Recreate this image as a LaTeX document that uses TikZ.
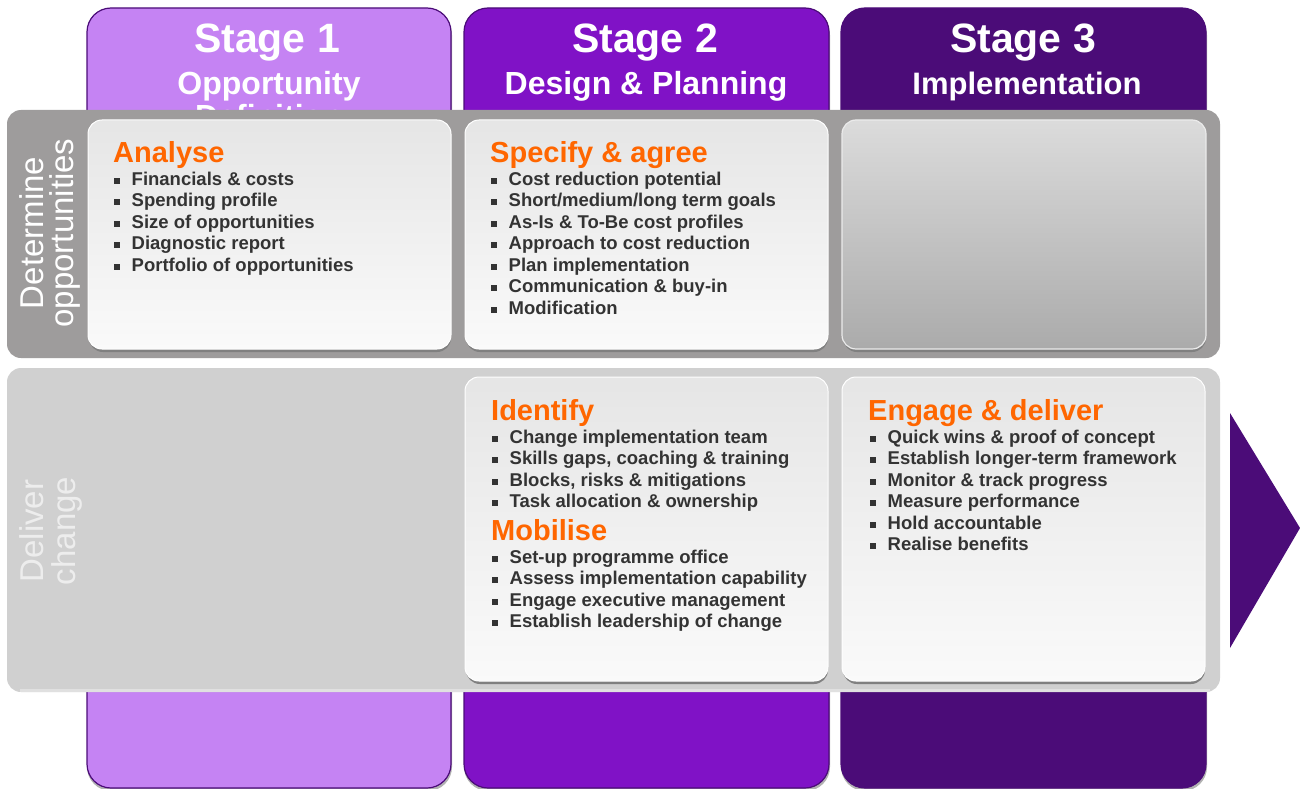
\documentclass[tikz,border=0pt]{standalone}
\usepackage{fontspec}
\setmainfont{Liberation Sans}
\definecolor{sOne}{HTML}{C583F3}
\definecolor{sTwo}{HTML}{8012C6}
\definecolor{sThree}{HTML}{4B0C78}
\definecolor{bandA}{HTML}{9E9C9C}
\definecolor{bandB}{HTML}{D0D0D0}
\definecolor{orng}{HTML}{FF6600}
\definecolor{txt}{HTML}{333333}
\newcommand\sqb{\raisebox{1.5pt}{\rule{6pt}{6pt}}\hspace{11.5pt}}
\newcommand\itemlist[4]{\foreach \t [count=\i] in {#4}{\node[item] (#1\i) at (#2,{#3+(\i-1)*21.55}) {\sqb\t};}}
\tikzset{
  stagecol/.style={draw=sThree, line width=1.2pt, rounded corners=24},
  colshadow/.style={fill=black!30, rounded corners=24},
  stagetitle/.style={text=white, font=\bfseries\fontsize{41}{44}\selectfont, anchor=base, inner sep=0},
  stagesub/.style={text=white, font=\bfseries\fontsize{#1}{33}\selectfont, anchor=base, inner sep=0},
  stagesub/.default=29,
  heading/.style={text=orng, font=\bfseries\fontsize{29}{33}\selectfont, anchor=base west, inner sep=0},
  item/.style={text=txt, font=\bfseries\fontsize{18.5}{21.6}\selectfont, anchor=base west, inner sep=0},
  panel/.style={rounded corners=14, top color=black!10, bottom color=black!2, draw=white, line width=1pt},
  darkpanel/.style={rounded corners=14, top color=black!14, bottom color=black!33, draw=white!92!black, line width=1.2pt},
  panelshadow/.style={rounded corners=14, fill=black!50},
  sidelabel/.style={rotate=90, anchor=base, inner sep=0, font=\fontsize{33}{36}\selectfont},
}
\begin{document}
\begin{tikzpicture}[x=1pt,y=-1pt]
\useasboundingbox (0,0) rectangle (1300,789);
% stage columns
\fill[colshadow] (87,11) rectangle (452,791);
\fill[colshadow] (464,11) rectangle (830,791);
\fill[colshadow] (841,11) rectangle (1207,791);
\filldraw[stagecol, fill=sOne] (87,8) rectangle (451,788);
\filldraw[stagecol, fill=sTwo] (464,8) rectangle (829,788);
\filldraw[stagecol, fill=sThree] (841,8) rectangle (1206,788);
\node[stagetitle] (s1) at (267,53) {Stage 1};
\node[stagesub=32] (s1b) at (269,95) {Opportunity};
\node[stagesub=32] (s1c) at (269,128) {Definition};
\node[stagetitle] (s2) at (645,53) {Stage 2};
\node[stagesub=32] (s2b) at (646,95) {Design \& Planning};
\node[stagetitle] (s3) at (1023,53) {Stage 3};
\node[stagesub=31] (s3b) at (1027,95) {Implementation};
% white gap between bands
\fill[white] (0,358) rectangle (1228,368);
% bands
\fill[bandA, rounded corners=14] (7,110) rectangle (1220,358);
\fill[bandB, rounded corners=14] (7,368) rectangle (1220,692);
\fill[black!12] (20,689) rectangle (1210,692);
\node[sidelabel, text=white] (d1) at (43,233) {Determine};
\node[sidelabel, text=white] (d2) at (73,233) {opportunities};
\node[sidelabel, text=black!7] (c1) at (43,531) {Deliver};
\node[sidelabel, text=black!7] (c2) at (75,531) {change};
% panels row 1
\fill[panelshadow] (89,123) rectangle (451,352);
\shade[panel] (88,120) rectangle (451,349);
\fill[panelshadow] (466,123) rectangle (828,352);
\shade[panel] (465,120) rectangle (828,349);
\fill[panelshadow] (843,123) rectangle (1206,352);
\shade[darkpanel] (842,120) rectangle (1206,349);
% panels row 2
\fill[panelshadow] (466,380) rectangle (828,684);
\shade[panel] (465,377) rectangle (828,681);
\fill[panelshadow] (843,380) rectangle (1205,684);
\shade[panel] (842,377) rectangle (1205,681);
% texts
\node[heading] (h1) at (113,162) {Analyse};
\itemlist{a}{114}{185}{{Financials \& costs},{Spending profile},{Size of opportunities},{Diagnostic report},{Portfolio of opportunities}}
\node[heading] (h2) at (490,162) {Specify \& agree};
\itemlist{b}{491}{185}{{Cost reduction potential},{Short/medium/long term goals},{As-Is \& To-Be cost profiles},{Approach to cost reduction},{Plan implementation},{Communication \& buy-in},{Modification}}
\node[heading] (h3) at (491,420) {Identify};
\itemlist{c}{492}{443}{{Change implementation team},{Skills gaps, coaching \& training},{Blocks, risks \& mitigations},{Task allocation \& ownership}}
\node[heading] (h4) at (491,540) {Mobilise};
\itemlist{m}{492}{563}{{Set-up programme office},{Assess implementation capability},{Engage executive management},{Establish leadership of change}}
\node[heading] (h5) at (868,420) {Engage \& deliver};
\itemlist{e}{870}{443}{{Quick wins \& proof of concept},{Establish longer-term framework},{Monitor \& track progress},{Measure performance},{Hold accountable},{Realise benefits}}
% arrow
\fill[sThree] (1230,413) -- (1300,528) -- (1230,648) -- cycle;
\end{tikzpicture}
\end{document}
